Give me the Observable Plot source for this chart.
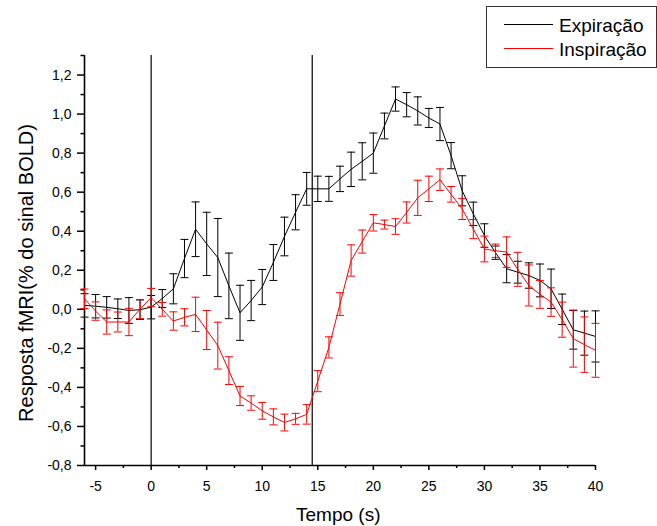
<!DOCTYPE html>
<html>
<head>
<meta charset="utf-8">
<script src="https://cdn.jsdelivr.net/npm/d3@7"></script>
<script src="https://cdn.jsdelivr.net/npm/@observablehq/plot@0.6"></script>
<style>
  html, body { margin: 0; padding: 0; background: #fff; }
  #chart svg { display: block; }
</style>
</head>
<body>
<div id="chart"></div>
<script>
// ---- data ----
const time = [-6,-5,-4,-3,-2,-1,0,1,2,3,4,5,6,7,8,9,10,11,12,13,14,15,16,17,18,19,20,21,22,23,24,25,26,27,28,29,30,31,32,33,34,35,36,37,38,39,40];

const expiracao = [0.020,0.016,0.010,0.003,-0.006,-0.002,0.011,0.055,0.105,0.260,0.410,0.335,0.265,0.120,-0.018,0.045,0.114,0.240,0.373,0.497,0.617,0.617,0.617,0.668,0.717,0.758,0.800,0.939,1.077,1.048,1.016,0.980,0.949,0.787,0.607,0.489,0.378,0.290,0.208,0.190,0.173,0.148,0.105,0.000,-0.105,-0.122,-0.139];
const expiracaoErr = [0.060,0.060,0.055,0.050,0.066,0.050,0.060,0.046,0.077,0.098,0.140,0.162,0.200,0.168,0.141,0.103,0.090,0.092,0.099,0.090,0.084,0.065,0.064,0.065,0.088,0.095,0.103,0.066,0.062,0.062,0.072,0.049,0.085,0.067,0.077,0.060,0.060,0.034,0.072,0.056,0.065,0.084,0.101,0.078,0.099,0.113,0.131];

const inspiracao = [0.054,-0.009,-0.065,-0.065,-0.065,0.001,0.060,0.000,-0.060,-0.041,-0.026,-0.106,-0.186,-0.314,-0.444,-0.480,-0.520,-0.551,-0.580,-0.561,-0.538,-0.368,-0.195,0.027,0.250,0.347,0.443,0.434,0.424,0.496,0.571,0.617,0.664,0.589,0.514,0.411,0.309,0.300,0.293,0.205,0.122,0.076,0.037,-0.053,-0.150,-0.181,-0.210];
const inspiracaoErr = [0.050,0.047,0.062,0.051,0.070,0.049,0.047,0.035,0.047,0.044,0.088,0.100,0.120,0.071,0.049,0.037,0.043,0.041,0.043,0.028,0.050,0.054,0.054,0.058,0.080,0.059,0.042,0.023,0.040,0.054,0.090,0.065,0.055,0.040,0.054,0.049,0.066,0.034,0.078,0.087,0.105,0.071,0.073,0.090,0.146,0.142,0.138];

const seriesNames = ["Expiração", "Inspiração"];
const seriesColors = ["#000000", "#ff0000"];
const markerTimes = [0, 14.5];

const xTicks = [-5,0,5,10,15,20,25,30,35,40];
const xMinorTicks = [-2.5,2.5,7.5,12.5,17.5,22.5,27.5,32.5,37.5];
const yTicks = [-0.8,-0.6,-0.4,-0.2,0.0,0.2,0.4,0.6,0.8,1.0,1.2];
const yMinorTicks = [-0.7,-0.5,-0.3,-0.1,0.1,0.3,0.5,0.7,0.9,1.1,1.3];
const xDomain = [-6, 40];
const yDomain = [-0.8, 1.3];
const xTitle = "Tempo (s)";
const yTitle = "Resposta fMRI(% do sinal BOLD)";

// ---- build rows ----
const rowsFor = (vals, errs, name) => time.map((t, i) => ({t, v: vals[i], e: errs[i], s: name}));
const expRows = rowsFor(expiracao, expiracaoErr, seriesNames[0]);
const insRows = rowsFor(inspiracao, inspiracaoErr, seriesNames[1]);

const capSymbol = {
  draw(context, size) {
    const w = Math.sqrt(size / Math.PI);
    context.moveTo(-w, 0);
    context.lineTo(w, 0);
  }
};

const fmtComma = d => d.toFixed(1).replace(".", ",");
const font = "Liberation Sans";

function seriesMarks(rows, color) {
  return [
    Plot.ruleX(rows, {x: "t", y1: d => d.v - d.e, y2: d => d.v + d.e, stroke: color, strokeWidth: 1}),
    Plot.dot(rows, {x: "t", y: d => d.v + d.e, symbol: capSymbol, r: 4, stroke: color, fill: "none", strokeWidth: 1}),
    Plot.dot(rows, {x: "t", y: d => d.v - d.e, symbol: capSymbol, r: 4, stroke: color, fill: "none", strokeWidth: 1}),
    Plot.line(rows, {x: "t", y: "v", stroke: color, strokeWidth: 1})
  ];
}

const plot = Plot.plot({
  width: 657,
  height: 526,
  marginLeft: 84,
  marginRight: 62,
  marginTop: 55,
  marginBottom: 61,
  style: {fontFamily: font, fontSize: "14px", background: "#fff", color: "#000"},
  x: {domain: xDomain},
  y: {domain: yDomain},
  marks: [
    Plot.axisX({ticks: xTicks, tickSize: 5, tickPadding: 11, tickFormat: d => String(d), label: null, strokeWidth: 1.5, fontSize: 14}),
    Plot.axisX({ticks: xMinorTicks, tickSize: 3, tickFormat: () => "", label: null, strokeWidth: 1.5}),
    Plot.axisY({ticks: yTicks, tickSize: 7, tickPadding: 6, tickFormat: fmtComma, label: null, strokeWidth: 1.5, fontSize: 14}),
    Plot.axisY({ticks: yMinorTicks, tickSize: 3.5, tickFormat: () => "", label: null, strokeWidth: 1.5}),
    Plot.ruleX([xDomain[0]], {stroke: "#000", strokeWidth: 1.6}),
    Plot.ruleY([yDomain[0]], {stroke: "#000", strokeWidth: 1.6}),
    Plot.ruleX(markerTimes, {stroke: "#000", strokeWidth: 1.2}),
    ...seriesMarks(expRows, seriesColors[0]),
    ...seriesMarks(insRows, seriesColors[1])
  ]
});

document.getElementById("chart").appendChild(plot);

const svg = d3.select(plot);
function addText(x, y, str, size, anchor, transform) {
  const t = svg.append("text")
    .attr("font-family", font).attr("font-size", size).attr("fill", "#000")
    .attr("text-anchor", anchor);
  if (transform) t.attr("transform", transform); else t.attr("x", x).attr("y", y);
  t.text(str);
  return t;
}
addText(296, 521, xTitle, 19, "start");
addText(0, 0, yTitle, 20, "middle", "translate(33,273) rotate(-90)");

const lg = svg.append("g");
lg.append("rect").attr("x", 486.5).attr("y", 6.5).attr("width", 170).attr("height", 61)
  .attr("fill", "#fff").attr("stroke", "#333").attr("stroke-width", 1);
seriesNames.forEach((name, i) => {
  const cy = 24.5 + i * 24;
  lg.append("line").attr("x1", 504).attr("x2", 553).attr("y1", cy).attr("y2", cy)
    .attr("stroke", seriesColors[i]).attr("stroke-width", 1);
  lg.append("text").attr("x", 559).attr("y", cy + 7).attr("text-anchor", "start")
    .attr("font-family", font).attr("font-size", 19).attr("fill", "#000")
    .text(name);
});
</script>
</body>
</html>
